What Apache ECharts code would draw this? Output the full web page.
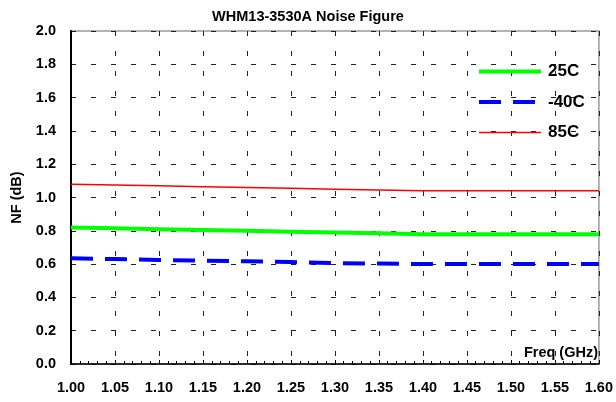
<!DOCTYPE html>
<html>
<head>
<meta charset="utf-8">
<script src="https://cdn.jsdelivr.net/npm/echarts@6/dist/echarts.min.js"></script>
<style>
html,body{margin:0;padding:0;background:#fff;}
#chart{width:616px;height:402px;}
</style>
</head>
<body>
<div id="chart"></div>
<script>
var titleText = 'WHM13-3530A Noise Figure';
var xName = 'Freq (GHz)';
var yName = 'NF (dB)';
var freqs = [1.00, 1.05, 1.10, 1.15, 1.20, 1.25, 1.30, 1.35, 1.40, 1.45, 1.50, 1.55, 1.60];
var nf25 = [0.82, 0.815, 0.81, 0.805, 0.80, 0.795, 0.79, 0.785, 0.78, 0.78, 0.78, 0.78, 0.78];
var nfM40 = [0.635, 0.63, 0.625, 0.62, 0.617, 0.612, 0.606, 0.603, 0.60, 0.60, 0.60, 0.60, 0.60];
var nf85 = [1.08, 1.075, 1.07, 1.065, 1.06, 1.055, 1.05, 1.045, 1.04, 1.04, 1.04, 1.04, 1.04];
var seriesNames = ['25C', '-40C', '85C'];

function pairs(vals) { return freqs.map(function (f, i) { return [f, vals[i]]; }); }

var font = 'Liberation Sans, Arial, sans-serif';
var chart = echarts.init(document.getElementById('chart'));
chart.setOption({
  animation: false,
  backgroundColor: '#fff',
  title: {
    text: titleText, left: 'center', top: 4,
    textStyle: { fontFamily: font, fontWeight: 'bold', fontSize: 14.5, color: '#000' }
  },
  grid: {
    left: 71, right: 16, top: 31, bottom: 38,
    show: true, borderColor: '#9a9a9a', borderWidth: 1.5, backgroundColor: 'transparent'
  },
  legend: {
    orient: 'vertical', left: 472, top: 58,
    itemWidth: 62, itemHeight: 16, itemGap: 13.5,
    itemStyle: { opacity: 0 },
    textStyle: { fontFamily: font, fontWeight: 'bold', fontSize: 17, color: '#000', padding: [0, 0, 0, 2] },
    data: [
      { name: seriesNames[0], lineStyle: { width: 4 } },
      { name: seriesNames[1], lineStyle: { type: [22, 12], width: 4 } },
      { name: seriesNames[2], lineStyle: { width: 1.5 } }
    ]
  },
  xAxis: {
    type: 'value', min: 1.0, max: 1.6, interval: 0.05,
    axisLine: { show: true, onZero: false, lineStyle: { color: '#000', width: 1.5 } },
    axisTick: { show: true, inside: true, length: 4, lineStyle: { color: '#000' } },
    minorTick: { show: true, splitNumber: 5, length: 3, lineStyle: { color: '#000' } },
    splitLine: { show: true, lineStyle: { color: '#222', width: 1, type: [5, 15] } },
    axisLabel: {
      margin: 16, fontFamily: font, fontWeight: 'bold', fontSize: 14.5, color: '#000',
      formatter: function (v) { return v.toFixed(2); }
    }
  },
  yAxis: {
    type: 'value', min: 0, max: 2.0, interval: 0.2,
    name: yName, nameLocation: 'middle', nameGap: 41,
    nameTextStyle: { fontFamily: font, fontWeight: 'bold', fontSize: 14.5, color: '#000' },
    axisLine: { show: true, onZero: false, lineStyle: { color: '#000', width: 2 } },
    axisTick: { show: false },
    splitLine: { show: true, lineStyle: { color: '#222', width: 1, type: [5, 15] } },
    axisLabel: {
      margin: 15, fontFamily: font, fontWeight: 'bold', fontSize: 14.5, color: '#000',
      formatter: function (v) { return v.toFixed(1); }
    }
  },
  graphic: [{
    type: 'text', right: 18, top: 345,
    style: { text: xName, fontFamily: font, fontWeight: 'bold', fontSize: 14.5, fill: '#000' }
  }],
  series: [
    { name: seriesNames[0], type: 'line', data: pairs(nf25), symbol: 'none', z: 3,
      lineStyle: { color: '#00ff00', width: 4 }, itemStyle: { color: '#00ff00' } },
    { name: seriesNames[1], type: 'line', data: pairs(nfM40), symbol: 'none', z: 4,
      lineStyle: { color: '#0000ff', width: 4, type: [22, 12] }, itemStyle: { color: '#0000ff' } },
    { name: seriesNames[2], type: 'line', data: pairs(nf85), symbol: 'none', z: 3,
      lineStyle: { color: '#ff0000', width: 1.5 }, itemStyle: { color: '#ff0000' } }
  ]
});
</script>
</body>
</html>
